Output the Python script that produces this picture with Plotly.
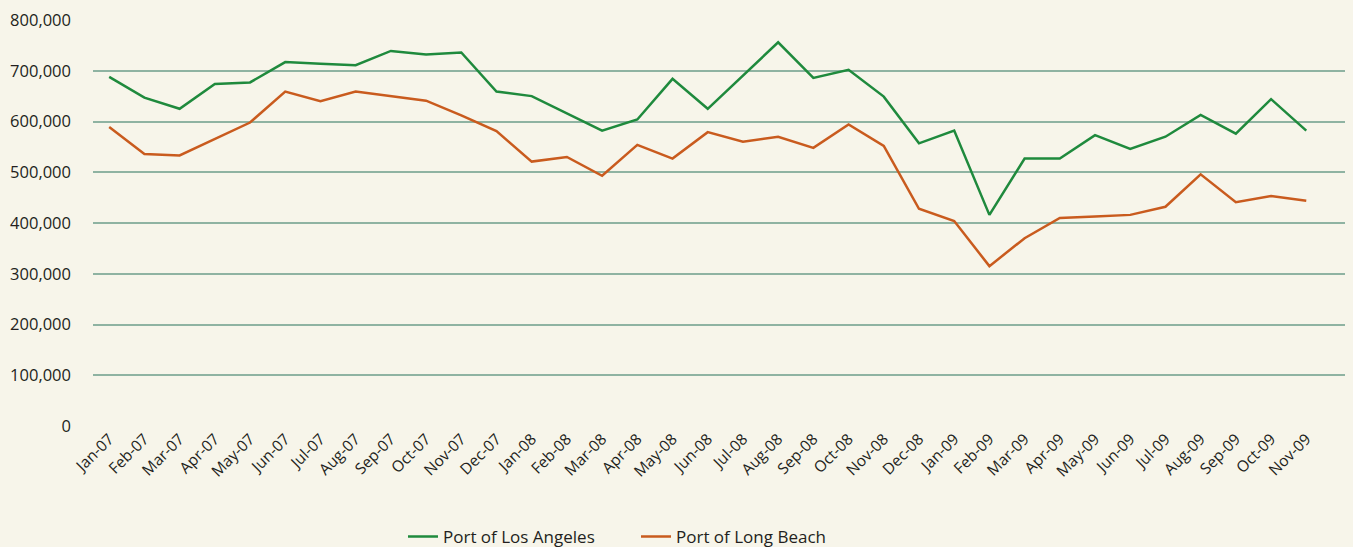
import plotly.graph_objects as go

months = ["Jan-07","Feb-07","Mar-07","Apr-07","May-07","Jun-07","Jul-07","Aug-07","Sep-07","Oct-07","Nov-07","Dec-07",
          "Jan-08","Feb-08","Mar-08","Apr-08","May-08","Jun-08","Jul-08","Aug-08","Sep-08","Oct-08","Nov-08","Dec-08",
          "Jan-09","Feb-09","Mar-09","Apr-09","May-09","Jun-09","Jul-09","Aug-09","Sep-09","Oct-09","Nov-09"]

los_angeles = [688000, 647000, 625000, 674000, 677000, 717000, 714000, 711000, 739000, 732000, 736000, 659000,
               650000, 616000, 582000, 604000, 684000, 625000, 690000, 756000, 686000, 702000, 649000, 557000,
               582000, 416000, 527000, 527000, 573000, 546000, 570000, 613000, 576000, 644000, 582000]

long_beach = [589000, 536000, 533000, 565000, 598000, 659000, 640000, 659000, 650000, 641000, 612000, 581000,
              521000, 530000, 493000, 554000, 527000, 579000, 560000, 570000, 548000, 594000, 552000, 428000,
              404000, 315000, 370000, 410000, 413000, 416000, 432000, 496000, 441000, 453000, 444000]

y_ticks = [0, 100000, 200000, 300000, 400000, 500000, 600000, 700000, 800000]

fig = go.Figure()
fig.add_trace(go.Scatter(x=months, y=los_angeles, mode="lines", name="Port of Los Angeles",
                         line=dict(color="#1f8a3d", width=2.5)))
fig.add_trace(go.Scatter(x=months, y=long_beach, mode="lines", name="Port of Long Beach",
                         line=dict(color="#c95b1e", width=2.5)))

bg = "#f7f5ea"
fig.update_layout(
    width=1353, height=547,
    paper_bgcolor=bg, plot_bgcolor=bg,
    margin=dict(l=93, r=8, t=20, b=121, autoexpand=False),
    font=dict(family="Open Sans, Noto Sans, sans-serif", color="#231f20"),
    showlegend=True,
    legend=dict(orientation="h", x=0.2476, xanchor="left", y=-0.273, yanchor="middle",
                font=dict(size=17), bgcolor="rgba(0,0,0,0)", itemwidth=30, entrywidth=188),
    xaxis=dict(type="category", range=[-0.46, 35.1], showgrid=False, showline=False, zeroline=False,
               tickangle=-45, tickfont=dict(size=15.5), ticks="", fixedrange=True),
    yaxis=dict(range=[0, 800000], tickvals=y_ticks, tickformat=",d", showgrid=True,
               gridcolor="#8fb3a2", gridwidth=1.5, zeroline=False, showline=False,
               tickfont=dict(size=16.5), ticklabelstandoff=21, ticks="", fixedrange=True),
)

fig.write_html("out.html", config={"displayModeBar": False},
               post_script="document.body.style.margin='0';document.body.style.background='#f7f5ea';")
